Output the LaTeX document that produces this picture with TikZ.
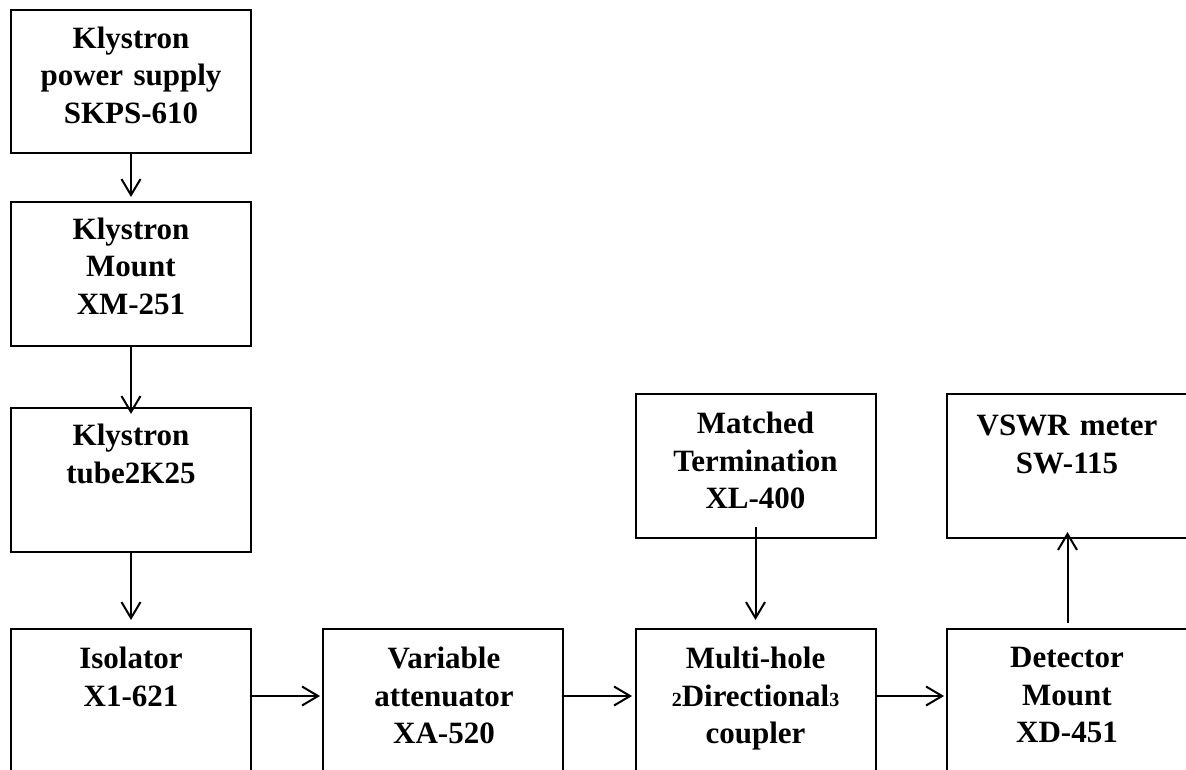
\documentclass[tikz,border=0pt]{standalone}
\usepackage{fontspec}
\setmainfont{Liberation Serif}
\usetikzlibrary{arrows.meta}
\tikzset{
  blockbox/.style={draw=black,line width=2pt,fill=white,minimum width=240pt,inner sep=0pt,outer sep=0pt,anchor=north west},
  label/.style={font=\fontsize{31}{37.5}\selectfont\bfseries,align=center,anchor=north,inner sep=0pt,text width=240pt},
  flow/.style={draw=black,line width=2pt,-{Straight Barb[length=16pt,width=19pt,line width=2pt]}},
}
\begin{document}
\begin{tikzpicture}[x=1pt,y=-1pt]
\useasboundingbox (0,0) rectangle (1186,769);
\clip (0,0) rectangle (1186,769);
\fill[white] (0,0) rectangle (1186,769);
% boxes
\node[blockbox,minimum height=143pt] (supply) at (11,10) {};
\node[blockbox,minimum height=144pt] (mount) at (11,202) {};
\node[blockbox,minimum height=144pt] (tube) at (11,408) {};
\node[blockbox,minimum height=180pt] (iso) at (11,629) {};
\node[blockbox,minimum height=180pt] (att) at (323,629) {};
\node[blockbox,minimum height=180pt] (coup) at (635.5,629) {};
\node[blockbox,minimum height=180pt] (det) at (947,629) {};
\node[blockbox,minimum height=144pt] (term) at (635.5,394) {};
\node[blockbox,minimum height=144pt] (vswr) at (947,394) {};
% labels
\node[label] (supplytext) at (131,26.5) {Klystron\\power supply\\SKPS-610};
\node[label] (mounttext) at (131,217.5) {Klystron\\Mount\\XM-251};
\node[label] (tubetext) at (131,424) {Klystron\\tube2K25};
\node[label] (isotext) at (131,647) {Isolator\\X1-621};
\node[label] (atttext) at (444,647) {Variable\\attenuator\\XA-520};
\node[label] (couptext) at (755.5,647) {Multi-hole\\{\fontsize{20}{37.5}\selectfont 2}Directional{\fontsize{20}{37.5}\selectfont 3}\\coupler};
\node[label] (dettext) at (1067,647) {Detector\\Mount\\XD-451};
\node[label] (termtext) at (755.5,412) {Matched\\Termination\\XL-400};
\node[label] (vswrtext) at (1067,415) {VSWR meter\\SW-115};
% connectors
\coordinate (a1) at (131,197);
\draw[flow] (supply.south -| a1) -- (a1);
\coordinate (a2) at (131,414);
\draw[flow] (mount.south -| a2) -- (a2);
\coordinate (a3) at (131,620);
\draw[flow] (tube.south -| a3) -- (a3);
\coordinate (a4) at (320,696);
\draw[flow] (iso.east |- a4) -- (a4);
\coordinate (a5) at (632,696);
\draw[flow] (att.east |- a5) -- (a5);
\coordinate (a6) at (944,696);
\draw[flow] (coup.east |- a6) -- (a6);
\coordinate (a7s) at (755.5,527);
\coordinate (a7e) at (755.5,620);
\draw[flow] (a7s) -- (a7e);
\coordinate (a8s) at (1067.5,623);
\coordinate (a8e) at (1067.5,532);
\draw[flow] (a8s) -- (a8e);
\end{tikzpicture}
\end{document}
